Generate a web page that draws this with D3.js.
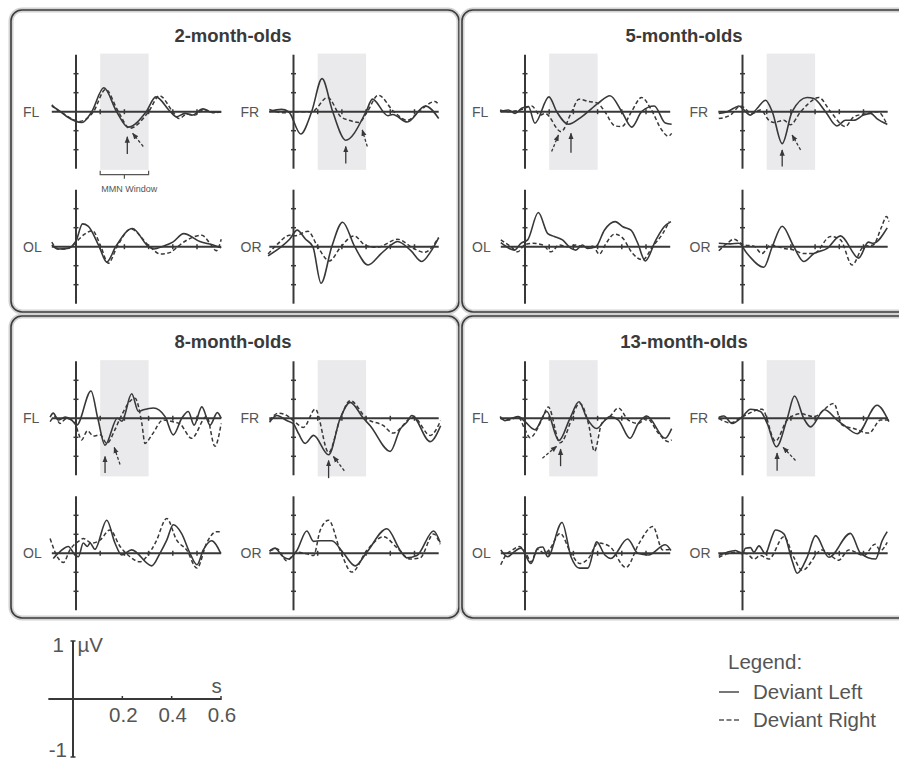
<!DOCTYPE html>
<html>
<head>
<meta charset="utf-8">
<title>MMN responses by age</title>
<script src="https://cdn.jsdelivr.net/npm/d3@7"></script>
<style>
  body { margin: 0; background: #fff; }
  svg text { font-family: "Liberation Sans", Arial, Helvetica, sans-serif; }
</style>
</head>
<body>
<svg id="chart" width="899" height="762"></svg>
<script>
// ---- data: [time (s), amplitude (µV)] ----
const groups = ["2-month-olds", "5-month-olds", "8-month-olds", "13-month-olds"];
const channels = ["FL", "FR", "OL", "OR"];
const timeTicks = [0.1, 0.2, 0.3, 0.4, 0.5];
const voltTicks = [-2/3, -1/3, 1/3, 2/3];
const mmnWindow = [0.1, 0.3];
const scaleTimeTicks = [0.2, 0.4, 0.6];

// 2-month-olds
const m2_FL_left  = [[-0.1,0.1],[-0.07,0.02],[-0.04,-0.08],[0.025,-0.19],[0.065,0],[0.115,0.42],[0.168,0],[0.215,-0.27],[0.29,0],[0.33,0.26],[0.39,0],[0.415,-0.09],[0.45,-0.03],[0.48,-0.06],[0.525,0.05],[0.56,-0.01],[0.6,0]];
const m2_FL_right = [[-0.1,0.12],[-0.08,0.04],[-0.05,-0.04],[0.015,-0.17],[0.072,0],[0.122,0.39],[0.175,0],[0.222,-0.29],[0.3,0],[0.345,0.28],[0.4,0],[0.425,-0.12],[0.46,-0.04],[0.49,-0.06],[0.53,0.04],[0.57,-0.02],[0.6,0]];
const m2_FR_left  = [[-0.1,0],[-0.05,0.04],[-0.02,0],[0.03,-0.39],[0.075,0],[0.118,0.58],[0.162,0],[0.216,-0.5],[0.3,0],[0.326,0.22],[0.39,-0.07],[0.41,-0.05],[0.47,-0.18],[0.545,0.1],[0.6,-0.12]];
const m2_FR_right = [[-0.1,0.04],[-0.04,-0.02],[0,0],[0.075,0],[0.141,0.25],[0.196,-0.09],[0.23,-0.15],[0.27,-0.19],[0.305,0],[0.35,0.29],[0.415,0],[0.47,-0.15],[0.525,0.03],[0.585,0.18],[0.6,0.12]];
const m2_OL_left  = [[-0.1,0.03],[-0.075,-0.04],[-0.035,-0.03],[0,0.1],[0.027,0.4],[0.05,0.36],[0.096,0],[0.127,-0.27],[0.164,0],[0.233,0.32],[0.3,0],[0.322,-0.04],[0.36,0.01],[0.4,0.08],[0.445,0.23],[0.512,0.09],[0.567,0.03],[0.6,-0.02]];
const m2_OL_right = [[-0.1,0.08],[-0.075,-0.04],[-0.04,-0.04],[0,0.08],[0.035,0.22],[0.068,0.28],[0.103,0],[0.133,-0.29],[0.17,0],[0.226,0.31],[0.305,0],[0.35,-0.13],[0.39,-0.1],[0.42,0],[0.46,0.12],[0.52,0.2],[0.555,0.05],[0.58,-0.07],[0.6,0.13]];
const m2_OR_left  = [[-0.105,-0.16],[-0.05,0],[-0.016,0.13],[0.015,0.29],[0.05,0.13],[0.08,0],[0.114,-0.64],[0.158,0],[0.203,0.43],[0.253,0],[0.308,-0.32],[0.36,-0.13],[0.4,0.02],[0.43,0.09],[0.485,-0.07],[0.53,-0.26],[0.565,-0.1],[0.6,0.16]];
const m2_OR_right = [[-0.105,-0.13],[-0.065,0.05],[-0.016,0.2],[0.004,0.19],[0.06,0.27],[0.1,0],[0.148,-0.25],[0.196,0],[0.25,0.19],[0.298,0.02],[0.345,-0.01],[0.43,0.13],[0.5,-0.04],[0.54,-0.1],[0.6,0.16]];

// 5-month-olds
const m5_FL_left  = [[-0.103,0],[-0.069,0.03],[-0.041,-0.03],[-0.014,0.06],[0.014,0.09],[0.041,-0.2],[0.099,0.26],[0.131,0],[0.179,-0.22],[0.234,-0.09],[0.303,0.15],[0.351,0.28],[0.4,0],[0.441,-0.27],[0.482,0],[0.534,0.1],[0.58,-0.2],[0.606,-0.22]];
const m5_FL_right = [[-0.103,0.03],[-0.069,0],[-0.02,0.03],[0.028,0.1],[0.062,-0.06],[0.083,-0.03],[0.149,-0.35],[0.193,0],[0.223,0.22],[0.262,0.18],[0.3,0.15],[0.33,0],[0.372,-0.25],[0.4,-0.26],[0.44,0],[0.482,0.25],[0.52,0.05],[0.565,-0.32],[0.592,-0.43],[0.606,-0.38]];
const m5_FR_left  = [[-0.098,-0.03],[-0.063,0],[-0.036,0.06],[-0.015,0.1],[0.006,0.03],[0.033,-0.06],[0.061,0.06],[0.095,0.2],[0.123,0],[0.164,-0.56],[0.205,0],[0.267,0.25],[0.295,0.23],[0.343,0],[0.39,-0.25],[0.425,-0.15],[0.46,-0.15],[0.5,-0.06],[0.53,-0.03],[0.555,-0.12],[0.598,-0.22]];
const m5_FR_right = [[-0.098,-0.12],[-0.05,-0.06],[-0.008,0.1],[0.04,-0.03],[0.075,0.03],[0.109,-0.15],[0.13,-0.19],[0.171,-0.15],[0.198,-0.23],[0.24,0],[0.267,0.12],[0.315,0.25],[0.364,0],[0.425,-0.26],[0.46,-0.09],[0.516,-0.03],[0.558,0],[0.598,-0.23]];
const m5_OL_left  = [[-0.1,0.07],[-0.065,-0.03],[-0.044,-0.06],[-0.017,0.06],[0.011,0.12],[0.055,0.6],[0.094,0.23],[0.121,0.18],[0.155,0.12],[0.19,-0.03],[0.21,-0.06],[0.237,0.03],[0.258,-0.03],[0.293,0],[0.328,0.29],[0.373,0.44],[0.404,0.35],[0.438,0.29],[0.466,0.06],[0.497,-0.25],[0.541,0.12],[0.575,0.35],[0.603,0.44]];
const m5_OL_right = [[-0.1,0.12],[-0.058,0],[-0.03,-0.09],[-0.003,0.03],[0.03,0.06],[0.074,0.03],[0.107,-0.09],[0.142,0.03],[0.176,0],[0.21,0.03],[0.245,-0.01],[0.28,0.01],[0.307,-0.13],[0.335,0.06],[0.37,0.22],[0.404,0.15],[0.445,-0.12],[0.486,-0.23],[0.527,0],[0.569,0.23],[0.596,0.44]];
const m5_OR_left  = [[-0.098,0.06],[-0.05,0.05],[-0.015,0.06],[0.019,-0.12],[0.088,-0.36],[0.123,0],[0.164,0.36],[0.212,0],[0.253,-0.26],[0.295,-0.12],[0.35,-0.03],[0.405,0.19],[0.48,-0.2],[0.52,0.08],[0.54,0.06],[0.598,0.33]];
const m5_OR_right = [[-0.098,-0.07],[-0.063,0.06],[-0.036,0.13],[0.006,0.03],[0.047,0.01],[0.08,-0.12],[0.116,0.03],[0.171,-0.03],[0.205,-0.05],[0.253,-0.12],[0.295,-0.12],[0.364,0.18],[0.405,0.12],[0.453,-0.32],[0.5,0],[0.54,0.03],[0.575,0.35],[0.595,0.53],[0.605,0.44]];

// 8-month-olds
const m8_FL_left  = [[-0.107,0.02],[-0.094,0.09],[-0.073,-0.03],[-0.045,0.02],[-0.018,-0.03],[0.003,-0.12],[0.062,0.48],[0.09,0],[0.12,-0.47],[0.171,0],[0.19,-0.05],[0.23,0.43],[0.258,0.12],[0.279,0.15],[0.32,0.18],[0.368,0.03],[0.402,-0.29],[0.437,0],[0.464,0.12],[0.488,-0.12],[0.52,0.2],[0.554,-0.12],[0.584,0.1],[0.6,0]];
const m8_FL_right = [[-0.107,-0.06],[-0.087,0.03],[-0.066,-0.09],[-0.039,0],[-0.004,-0.09],[0.01,-0.26],[0.023,-0.38],[0.047,-0.22],[0.072,-0.31],[0.1,-0.29],[0.127,-0.44],[0.161,-0.2],[0.182,0],[0.244,0.35],[0.272,-0.09],[0.285,-0.44],[0.314,-0.29],[0.36,-0.03],[0.4,-0.06],[0.43,-0.1],[0.478,-0.35],[0.54,0.03],[0.574,-0.49],[0.6,-0.09]];
const m8_FR_left  = [[-0.099,-0.07],[-0.069,0.05],[-0.028,-0.04],[0,-0.1],[0.021,-0.27],[0.048,-0.44],[0.083,-0.3],[0.145,-0.64],[0.193,0],[0.234,0.28],[0.289,0],[0.317,-0.13],[0.4,-0.58],[0.441,-0.19],[0.468,-0.07],[0.489,0.05],[0.565,-0.41],[0.608,-0.13]];
const m8_FR_right = [[-0.099,-0.04],[-0.062,0.09],[-0.028,0.05],[0.007,-0.07],[0.041,-0.16],[0.09,0.16],[0.145,-0.6],[0.193,-0.01],[0.234,0.31],[0.303,-0.01],[0.372,-0.13],[0.41,-0.26],[0.496,0.02],[0.565,-0.3],[0.608,-0.04]];
const m8_OL_left  = [[-0.094,-0.09],[-0.066,0.03],[-0.032,0.12],[-0.004,-0.03],[0.01,-0.06],[0.03,0.18],[0.047,0.12],[0.058,0.18],[0.078,0.07],[0.127,0.58],[0.161,0.18],[0.189,-0.03],[0.23,0.06],[0.313,-0.22],[0.347,0],[0.375,0.23],[0.402,0.5],[0.436,0.35],[0.471,0],[0.5,-0.2],[0.526,0.06],[0.56,0.22],[0.598,0]];
const m8_OL_right = [[-0.107,0.26],[-0.073,-0.09],[-0.052,-0.16],[-0.025,0.06],[0.017,0.23],[0.03,0.26],[0.065,0.18],[0.099,0.23],[0.14,0.41],[0.182,0.12],[0.223,-0.06],[0.264,-0.15],[0.292,-0.06],[0.33,0.2],[0.375,0.61],[0.416,0.23],[0.457,0.06],[0.5,-0.26],[0.54,0.18],[0.58,0.38],[0.598,0.38]];
const m8_OR_left  = [[-0.099,0.04],[-0.076,0.09],[-0.048,-0.04],[-0.02,-0.1],[0.014,0.05],[0.055,0.39],[0.083,0.21],[0.11,0.22],[0.158,0.22],[0.207,0],[0.255,-0.22],[0.303,0.02],[0.386,0.43],[0.441,0.05],[0.468,-0.08],[0.51,-0.04],[0.579,0.39],[0.606,0.19]];
const m8_OR_right = [[-0.099,0.04],[-0.069,0.08],[-0.028,-0.13],[0.014,0.02],[0.055,-0.01],[0.083,-0.04],[0.11,0.4],[0.145,0.58],[0.193,0.05],[0.241,-0.33],[0.303,0.05],[0.372,0.29],[0.427,0.1],[0.482,-0.1],[0.523,-0.08],[0.579,0.34],[0.606,0.16]];

// 13-month-olds
const m13_FL_left  = [[-0.103,0.03],[-0.083,-0.04],[-0.055,0],[-0.028,0.03],[0,-0.06],[0.041,-0.2],[0.09,0.12],[0.14,-0.39],[0.186,0],[0.223,0.29],[0.256,0],[0.296,-0.18],[0.331,-0.03],[0.351,0.03],[0.386,-0.03],[0.434,-0.35],[0.468,-0.09],[0.503,0.04],[0.579,-0.35],[0.606,-0.18]];
const m13_FL_right = [[-0.103,0],[-0.069,-0.03],[-0.028,0.02],[0,-0.2],[0.021,-0.34],[0.069,-0.03],[0.096,0.2],[0.145,-0.43],[0.227,0.26],[0.262,-0.09],[0.287,-0.58],[0.317,-0.09],[0.351,0.03],[0.386,0.18],[0.427,-0.03],[0.468,-0.09],[0.503,0],[0.551,-0.26],[0.592,-0.41],[0.606,-0.38]];
const m13_FR_left  = [[-0.098,0.02],[-0.077,0.04],[-0.043,-0.09],[0,0.03],[0.033,0.16],[0.074,0.12],[0.102,-0.09],[0.14,-0.5],[0.185,0],[0.215,0.39],[0.253,0],[0.281,-0.15],[0.339,0.15],[0.391,-0.03],[0.419,-0.12],[0.474,-0.27],[0.556,0.23],[0.605,-0.06]];
const m13_FR_right = [[-0.098,0],[-0.05,-0.08],[0,0.03],[0.081,0.16],[0.136,-0.4],[0.185,-0.03],[0.24,0.08],[0.295,0.03],[0.377,0.26],[0.412,-0.12],[0.46,-0.18],[0.522,-0.26],[0.571,-0.03],[0.605,-0.03]];
const m13_OL_left  = [[-0.1,0.06],[-0.072,-0.06],[-0.044,0.03],[-0.017,0.09],[0.025,-0.18],[0.052,0.09],[0.073,0.11],[0.094,-0.06],[0.153,0.54],[0.19,-0.06],[0.225,-0.26],[0.26,-0.26],[0.296,0.2],[0.33,-0.03],[0.355,-0.09],[0.424,0.25],[0.466,0],[0.51,-0.03],[0.58,0.15],[0.603,0.05]];
const m13_OL_right = [[-0.1,-0.2],[-0.079,-0.03],[-0.051,0.06],[-0.023,0.12],[0.004,0],[0.025,-0.15],[0.052,0.07],[0.08,0],[0.1,0.06],[0.145,0.35],[0.19,0],[0.227,-0.18],[0.262,-0.09],[0.303,0.18],[0.35,0.12],[0.417,-0.25],[0.472,0.18],[0.528,0.47],[0.569,0.06],[0.603,0.07]];
const m13_OR_left  = [[-0.098,-0.04],[-0.063,0.02],[-0.029,0.05],[0,-0.01],[0.012,0.09],[0.033,0.1],[0.047,0.02],[0.068,0.13],[0.095,-0.01],[0.116,0.22],[0.136,0.41],[0.171,0.34],[0.205,-0.13],[0.226,-0.35],[0.267,-0.07],[0.302,0.31],[0.357,-0.07],[0.446,0.35],[0.488,0],[0.55,-0.1],[0.577,0.22],[0.598,0.38]];
const m13_OR_right = [[-0.098,-0.07],[-0.063,-0.01],[-0.022,0.02],[0.019,-0.01],[0.047,-0.1],[0.074,-0.04],[0.109,-0.1],[0.171,0.29],[0.212,-0.07],[0.247,-0.3],[0.329,0.06],[0.364,-0.04],[0.398,-0.12],[0.439,0.06],[0.501,-0.04],[0.548,0.16],[0.57,0.05],[0.598,0.19]];

// MMN peak arrows: [tailT, tailV, headT, headV] for left (solid) and right (dashed)
const arrowsLeft  = { "2-month-olds": { FL: [0.212,-0.74,0.212,-0.44], FR: [0.216,-0.91,0.216,-0.61] },
                      "5-month-olds": { FL: [0.19,-0.72,0.19,-0.38],   FR: [0.164,-0.96,0.164,-0.67] },
                      "8-month-olds": { FL: [0.12,-0.96,0.12,-0.67],   FR: [0.145,-1.05,0.145,-0.74] },
                      "13-month-olds":{ FL: [0.147,-0.84,0.147,-0.54], FR: [0.143,-0.92,0.143,-0.61] } };
const arrowsRight = { "2-month-olds": { FL: [0.278,-0.61,0.234,-0.38], FR: [0.305,-0.61,0.284,-0.32] },
                      "5-month-olds": { FL: [0.11,-0.7,0.138,-0.41],   FR: [0.24,-0.67,0.205,-0.41] },
                      "8-month-olds": { FL: [0.182,-0.81,0.158,-0.51], FR: [0.21,-0.92,0.165,-0.67] },
                      "13-month-olds":{ FL: [0.072,-0.7,0.131,-0.49],  FR: [0.219,-0.74,0.168,-0.51] } };

const series = {
  "2-month-olds":  { FL: [m2_FL_left, m2_FL_right],   FR: [m2_FR_left, m2_FR_right],   OL: [m2_OL_left, m2_OL_right],   OR: [m2_OR_left, m2_OR_right] },
  "5-month-olds":  { FL: [m5_FL_left, m5_FL_right],   FR: [m5_FR_left, m5_FR_right],   OL: [m5_OL_left, m5_OL_right],   OR: [m5_OR_left, m5_OR_right] },
  "8-month-olds":  { FL: [m8_FL_left, m8_FL_right],   FR: [m8_FR_left, m8_FR_right],   OL: [m8_OL_left, m8_OL_right],   OR: [m8_OR_left, m8_OR_right] },
  "13-month-olds": { FL: [m13_FL_left, m13_FL_right], FR: [m13_FR_left, m13_FR_right], OL: [m13_OL_left, m13_OL_right], OR: [m13_OR_left, m13_OR_right] }
};

// ---- drawing ----
const svg = d3.select("#chart");
const ink = "#383838";
const dash = "4,2.5";

svg.append("defs").append("marker")
  .attr("id", "head").attr("viewBox", "0 0 10 10")
  .attr("refX", 9).attr("refY", 5)
  .attr("markerWidth", 5).attr("markerHeight", 5)
  .attr("orient", "auto")
  .append("path").attr("d", "M0,1 L10,5 L0,9 z").attr("fill", ink);

const line = (x, y) => d3.line().x(d => x(d[0])).y(d => y(d[1])).curve(d3.curveMonotoneX);

groups.forEach((g, i) => {
  const col = i % 2, row = Math.floor(i / 2);
  const px = 11 + col * 451, py = 10 + row * 306;
  const panel = svg.append("g");

  // rounded frame with soft halo
  panel.append("rect").attr("x", px).attr("y", py).attr("width", 448).attr("height", 302)
    .attr("rx", 11).attr("fill", "none").attr("stroke", "#d2d2d2").attr("stroke-width", 5);
  panel.append("rect").attr("x", px).attr("y", py).attr("width", 448).attr("height", 302)
    .attr("rx", 11).attr("fill", "none").attr("stroke", "#3c3c3c").attr("stroke-width", 1.6);

  panel.append("text").attr("x", px + 222).attr("y", py + 31.5)
    .attr("text-anchor", "middle").attr("font-size", 18.5).attr("font-weight", "bold")
    .attr("fill", "#3a3a3a").text(g);

  channels.forEach((ch, j) => {
    const ax = [76, 293.5][j % 2] + col * 449;
    const zy = [111.7, 246.7][Math.floor(j / 2)] + row * 306.6;
    const x = d3.scaleLinear().domain([-0.1, 0.6]).range([ax - 24.2, ax + 145.2]);
    const y = d3.scaleLinear().domain([-1, 1]).range([zy + 57, zy - 57]);
    const sub = panel.append("g");

    if (ch === "FL" || ch === "FR") {
      sub.append("rect").attr("x", x(mmnWindow[0])).attr("y", y(1.02))
        .attr("width", x(mmnWindow[1]) - x(mmnWindow[0])).attr("height", y(-1.02) - y(1.02))
        .attr("fill", "#eaeaec");
    }

    // axes
    sub.append("line").attr("x1", x(0)).attr("x2", x(0)).attr("y1", y(1)).attr("y2", y(-1))
      .attr("stroke", ink).attr("stroke-width", 2);
    sub.append("line").attr("x1", x(-0.1)).attr("x2", x(0.6)).attr("y1", y(0)).attr("y2", y(0))
      .attr("stroke", ink).attr("stroke-width", 2);
    sub.selectAll(".yt").data(voltTicks).join("line")
      .attr("x1", x(0) - 2.5).attr("x2", x(0) + 2.5).attr("y1", d => y(d)).attr("y2", d => y(d))
      .attr("stroke", ink).attr("stroke-width", 1.5);
    sub.selectAll(".xt").data(timeTicks).join("line")
      .attr("x1", d => x(d)).attr("x2", d => x(d)).attr("y1", y(0) - 2.5).attr("y2", y(0) + 2.5)
      .attr("stroke", ink).attr("stroke-width", 1.5);

    sub.append("text").attr("x", ax - 53).attr("y", zy + 5).attr("font-size", 14)
      .attr("fill", "#555").text(ch);

    const [left, right] = series[g][ch];
    sub.append("path").attr("d", line(x, y)(right)).attr("fill", "none")
      .attr("stroke", ink).attr("stroke-width", 1.5).attr("stroke-dasharray", dash);
    sub.append("path").attr("d", line(x, y)(left)).attr("fill", "none")
      .attr("stroke", ink).attr("stroke-width", 1.6);

    if (arrowsLeft[g][ch]) {
      const a = arrowsLeft[g][ch], b = arrowsRight[g][ch];
      sub.append("line").attr("x1", x(a[0])).attr("y1", y(a[1])).attr("x2", x(a[2])).attr("y2", y(a[3]))
        .attr("stroke", ink).attr("stroke-width", 1.3).attr("marker-end", "url(#head)");
      sub.append("line").attr("x1", x(b[0])).attr("y1", y(b[1])).attr("x2", x(b[2])).attr("y2", y(b[3]))
        .attr("stroke", ink).attr("stroke-width", 1.3).attr("stroke-dasharray", "3,2")
        .attr("marker-end", "url(#head)");
    }

    // MMN window bracket, first panel only
    if (i === 0 && ch === "FL") {
      const by = zy + 63;
      sub.append("path")
        .attr("d", `M${x(mmnWindow[0])},${by - 4}V${by}H${x(mmnWindow[1])}V${by - 4}M${x(0.2)},${by}V${by + 4}`)
        .attr("fill", "none").attr("stroke", "#555").attr("stroke-width", 1.2);
      sub.append("text").attr("x", x(0.22)).attr("y", zy + 80).attr("text-anchor", "middle")
        .attr("font-size", 9).attr("fill", "#555").text("MMN Window");
    }
  });
});

// ---- scale bar ----
const sx = d3.scaleLinear().domain([0, 0.6]).range([73, 221]);
const sy = d3.scaleLinear().domain([-1, 1]).range([757, 641]);
const scale = svg.append("g").attr("fill", "#555").attr("font-size", 20.5);
scale.append("line").attr("x1", sx(-0.1)).attr("x2", sx(0.6)).attr("y1", sy(0)).attr("y2", sy(0))
  .attr("stroke", ink).attr("stroke-width", 2);
scale.append("line").attr("x1", sx(0)).attr("x2", sx(0)).attr("y1", sy(1)).attr("y2", sy(-1))
  .attr("stroke", ink).attr("stroke-width", 2);
scale.selectAll(".et").data([1, -1]).join("line")
  .attr("x1", sx(0) - 2.5).attr("x2", sx(0) + 2.5).attr("y1", d => sy(d)).attr("y2", d => sy(d))
  .attr("stroke", ink).attr("stroke-width", 1.5);
scale.selectAll(".st").data(scaleTimeTicks).join("line")
  .attr("x1", d => sx(d)).attr("x2", d => sx(d)).attr("y1", sy(0) - 3).attr("y2", sy(0) + 1)
  .attr("stroke", ink).attr("stroke-width", 1.5);
scale.selectAll(".sl").data(scaleTimeTicks).join("text")
  .attr("x", d => sx(d) + 1).attr("y", 721.5).attr("text-anchor", "middle").text(d => d.toFixed(1));
scale.append("text").attr("x", 64).attr("y", 652).attr("text-anchor", "end").text("1");
scale.append("text").attr("x", 77.5).attr("y", 652).text("µV");
scale.append("text").attr("x", 216.5).attr("y", 692.5).attr("text-anchor", "middle").text("s");
scale.append("text").attr("x", 67).attr("y", 757).attr("text-anchor", "end").text("-1");

// ---- legend ----
const legend = svg.append("g").attr("fill", "#555").attr("font-size", 20.5);
legend.append("text").attr("x", 728).attr("y", 668.5).text("Legend:");
legend.append("line").attr("x1", 719).attr("x2", 739).attr("y1", 692).attr("y2", 692)
  .attr("stroke", "#555").attr("stroke-width", 1.6);
legend.append("text").attr("x", 753).attr("y", 698.5).text("Deviant Left");
legend.append("line").attr("x1", 719).attr("x2", 739).attr("y1", 720).attr("y2", 720)
  .attr("stroke", "#555").attr("stroke-width", 1.6).attr("stroke-dasharray", "5,2.5");
legend.append("text").attr("x", 753).attr("y", 726.5).text("Deviant Right");
</script>
</body>
</html>
